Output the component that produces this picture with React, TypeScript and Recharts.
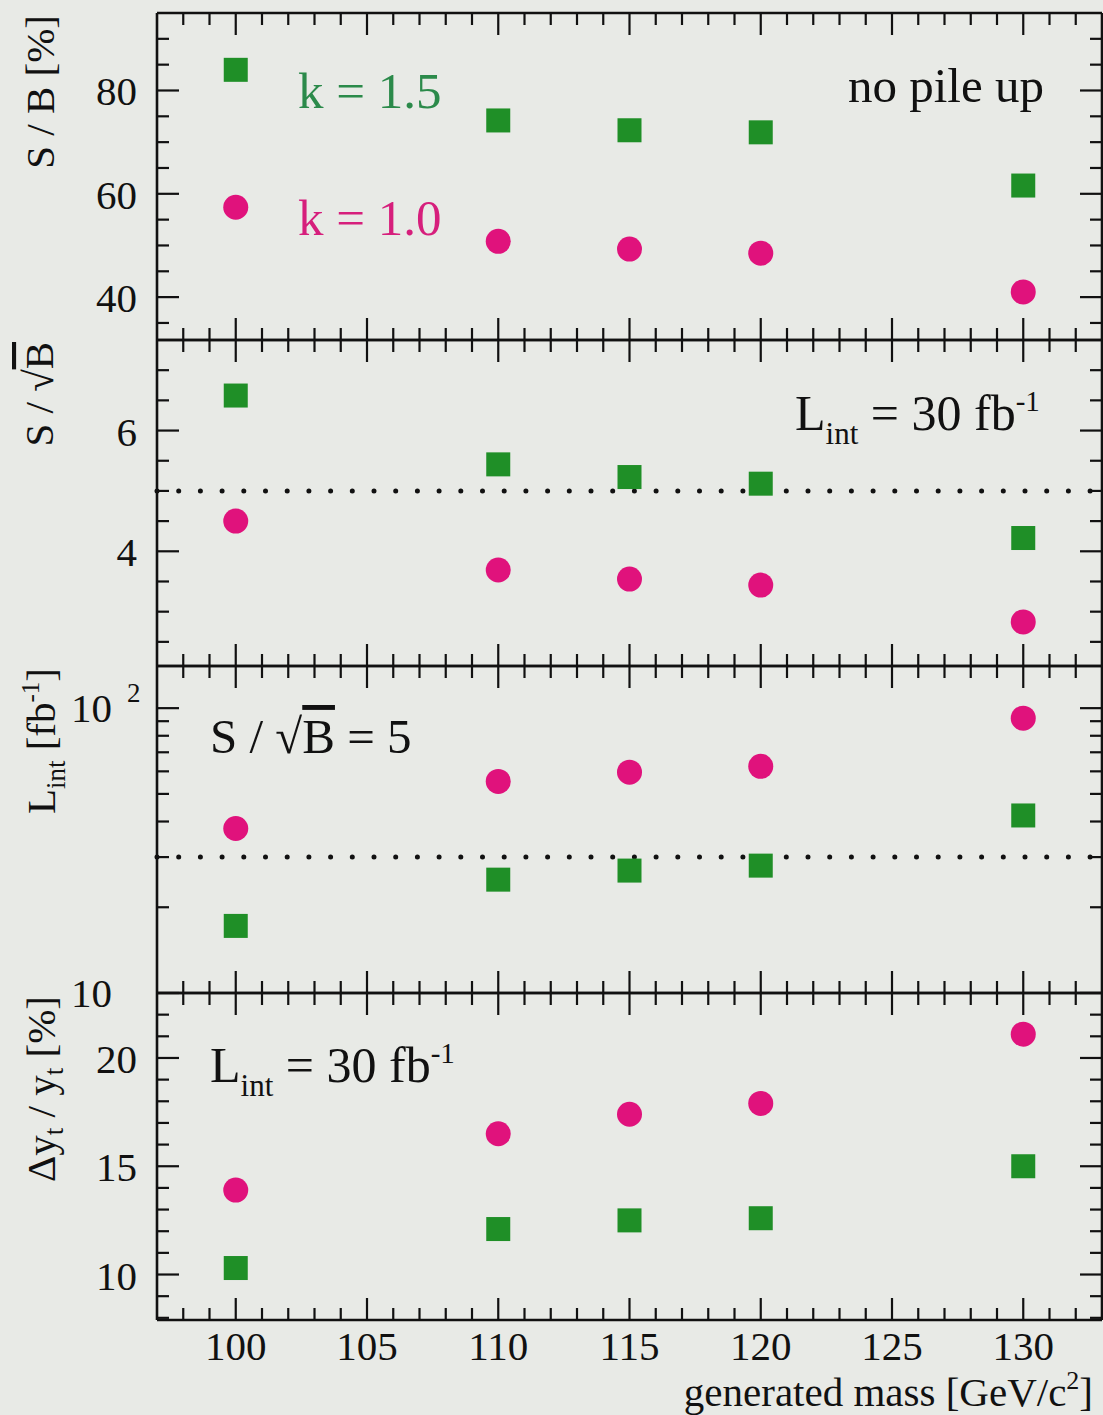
import React from 'react';
import { ScatterChart, Scatter, XAxis, YAxis, ReferenceLine } from 'recharts';

// Generated Higgs mass points [GeV/c^2]
const masses = [100, 110, 115, 120, 130];

// S / B [%]
const sbK15 = [84.0, 74.2, 72.3, 71.9, 61.6];
const sbK10 = [57.4, 50.8, 49.3, 48.5, 41.0];

// S / sqrt(B) at L_int = 30 fb^-1
const signifK15 = [6.58, 5.44, 5.23, 5.12, 4.22];
const signifK10 = [4.5, 3.69, 3.54, 3.44, 2.83];

// L_int needed for S / sqrt(B) = 5 [fb^-1]
const lumiK15 = [17.2, 25.0, 26.9, 28.0, 42.0];
const lumiK10 = [37.8, 55.3, 59.6, 62.5, 92.2];

// Delta y_t / y_t [%] at L_int = 30 fb^-1
const yukawaK15 = [10.3, 12.1, 12.5, 12.6, 15.0];
const yukawaK10 = [13.9, 16.5, 17.4, 17.9, 21.1];

// Reference levels drawn as dotted lines
const signifThreshold = 5;
const lumiReference = 30;

// Axis ticks
const massTicks = [98, 99, 100, 101, 102, 103, 104, 105, 106, 107, 108, 109, 110, 111, 112, 113, 114, 115, 116, 117, 118, 119, 120, 121, 122, 123, 124, 125, 126, 127, 128, 129, 130, 131, 132];
const massMajor = [100, 105, 110, 115, 120, 125, 130];
const sbTicks = [35, 40, 45, 50, 55, 60, 65, 70, 75, 80, 85, 90];
const sbMajor = [40, 60, 80];
const signifTicks = [2.5, 3, 3.5, 4, 4.5, 5, 5.5, 6, 6.5, 7];
const signifMajor = [4, 6];
const lumiTicks = [10, 20, 30, 40, 50, 60, 70, 80, 90, 100];
const lumiMajor = [10, 100];
const yukawaTicks = [8, 9, 10, 11, 12, 13, 14, 15, 16, 17, 18, 19, 20, 21, 22];
const yukawaMajor = [10, 15, 20];

const W = 1103;
const H = 1415;
const PLOT_LEFT = 157;
const FONT = "'Liberation Serif', 'Times New Roman', serif";
const INK = '#111111';
const GREEN = '#1f8f27';
const MAGENTA = '#e0127c';
const GREEN_TEXT = '#2b8a4a';
const MAGENTA_TEXT = '#d61f7c';
const MAJOR_LEN = 22;
const MINOR_LEN = 12;
const TICK_FONT = 41;

const toPoints = (ys: number[]) => masses.map((m, i) => ({ x: m, y: ys[i] }));

const SquareMark = (p: any) => {
  if (p.cx == null || p.cy == null) return null;
  return <rect x={p.cx - 12} y={p.cy - 12} width={24} height={24} fill={GREEN} />;
};
const DotMark = (p: any) => {
  if (p.cx == null || p.cy == null) return null;
  return <circle cx={p.cx} cy={p.cy} r={12.5} fill={MAGENTA} />;
};

type LabelFn = (v: number, x: number, y: number) => React.ReactNode;

const plainYLabel: LabelFn = (v, x, y) => (
  <text x={x - 20} y={y + 15} textAnchor="end" fontSize={TICK_FONT} fill={INK} fontFamily={FONT}>
    {v}
  </text>
);

const powerYLabel: LabelFn = (v, x, y) => (
  <g>
    <text x={x - 45} y={y + 14} textAnchor="end" fontSize={TICK_FONT} fill={INK} fontFamily={FONT}>
      10
    </text>
    {v === 100 ? (
      <text x={x - 30} y={y - 6} fontSize={27} fill={INK} fontFamily={FONT}>
        2
      </text>
    ) : null}
  </g>
);

const makeYTick = (side: 'left' | 'right', majors: number[], label: LabelFn) => (p: any) => {
  const v = p.payload.value;
  const major = majors.includes(v);
  const len = major ? MAJOR_LEN : MINOR_LEN;
  const dir = side === 'left' ? 1 : -1;
  return (
    <g>
      <line x1={p.x} x2={p.x + dir * len} y1={p.y} y2={p.y} stroke={INK} strokeWidth={2.2} />
      {side === 'left' && major ? label(v, p.x, p.y) : null}
    </g>
  );
};

const makeXTick = (side: 'top' | 'bottom', withLabels: boolean) => (p: any) => {
  const v = p.payload.value;
  const major = massMajor.includes(v);
  const len = major ? MAJOR_LEN : MINOR_LEN;
  const dir = side === 'bottom' ? -1 : 1;
  return (
    <g>
      <line x1={p.x} x2={p.x} y1={p.y} y2={p.y + dir * len} stroke={INK} strokeWidth={2.2} />
      {withLabels && major ? (
        <text x={p.x} y={p.y + 40} textAnchor="middle" fontSize={TICK_FONT} fill={INK} fontFamily={FONT}>
          {v}
        </text>
      ) : null}
    </g>
  );
};

type PanelProps = {
  top: number;
  bottom: number;
  domain: [number, number];
  log?: boolean;
  ticks: number[];
  majors: number[];
  label: LabelFn;
  squares: number[];
  dots: number[];
  refY?: number;
  xLabels?: boolean;
  children?: React.ReactNode;
};

const axisLine = { stroke: INK, strokeWidth: 2.6 };

function Panel(props: PanelProps) {
  const { top, bottom, domain, log, ticks, majors, label, squares, dots, refY, xLabels, children } = props;
  return (
    <div style={{ position: 'absolute', left: 0, top: 0, width: W, height: H }}>
      <ScatterChart width={W} height={H} margin={{ top: top - 1, bottom: H - bottom - 1, left: 0, right: 0 }}>
        <XAxis
          xAxisId="b"
          orientation="bottom"
          type="number"
          dataKey="x"
          domain={[97, 133]}
          allowDataOverflow
          ticks={massTicks}
          interval={0}
          height={1}
          tickSize={0}
          tickMargin={0}
          tickLine={false}
          axisLine={axisLine}
          tick={makeXTick('bottom', !!xLabels)}
        />
        <XAxis
          xAxisId="t"
          orientation="top"
          type="number"
          dataKey="x"
          domain={[97, 133]}
          allowDataOverflow
          ticks={massTicks}
          interval={0}
          height={1}
          tickSize={0}
          tickMargin={0}
          tickLine={false}
          axisLine={axisLine}
          tick={makeXTick('top', false)}
        />
        <YAxis
          yAxisId="l"
          orientation="left"
          type="number"
          dataKey="y"
          scale={log ? 'log' : 'linear'}
          domain={domain}
          allowDataOverflow
          ticks={ticks}
          interval={0}
          width={PLOT_LEFT}
          tickSize={0}
          tickMargin={0}
          tickLine={false}
          axisLine={axisLine}
          tick={makeYTick('left', majors, label)}
        />
        <YAxis
          yAxisId="r"
          orientation="right"
          type="number"
          dataKey="y"
          scale={log ? 'log' : 'linear'}
          domain={domain}
          allowDataOverflow
          ticks={ticks}
          interval={0}
          width={1}
          tickSize={0}
          tickMargin={0}
          tickLine={false}
          axisLine={axisLine}
          tick={makeYTick('right', majors, label)}
        />
        {refY != null ? (
          <ReferenceLine
            xAxisId="b"
            yAxisId="l"
            y={refY}
            stroke={INK}
            strokeWidth={5}
            strokeDasharray="0 21.7"
            strokeLinecap="round"
          />
        ) : null}
        <Scatter
          name="k = 1.5"
          data={toPoints(squares)}
          xAxisId="b"
          yAxisId="l"
          shape={SquareMark}
          isAnimationActive={false}
        />
        <Scatter
          name="k = 1.0"
          data={toPoints(dots)}
          xAxisId="b"
          yAxisId="l"
          shape={DotMark}
          isAnimationActive={false}
        />
        {children}
      </ScatterChart>
    </div>
  );
}

const T = { fill: INK, fontFamily: FONT } as const;

export default function App() {
  return (
    <div
      style={{
        position: 'absolute',
        left: 0,
        top: 0,
        width: W,
        height: H,
        background: '#e8eae6',
        fontFamily: FONT,
        overflow: 'hidden',
      }}
    >
      {/* S / B */}
      <Panel top={13} bottom={340} domain={[31.7, 95]} ticks={sbTicks} majors={sbMajor} label={plainYLabel} squares={sbK15} dots={sbK10}>
        <text transform="translate(54,15) rotate(-90)" textAnchor="end" fontSize={41} {...T}>
          S / B [%]
        </text>
        <text x={298} y={108} fontSize={51} fill={GREEN_TEXT} fontFamily={FONT}>
          k = 1.5
        </text>
        <text x={298} y={235} fontSize={51} fill={MAGENTA_TEXT} fontFamily={FONT}>
          k = 1.0
        </text>
        <text x={848} y={102} fontSize={49} {...T}>
          no pile up
        </text>
      </Panel>

      {/* S / sqrt(B) */}
      <Panel top={340} bottom={666} domain={[2.1, 7.5]} ticks={signifTicks} majors={signifMajor} label={plainYLabel} squares={signifK15} dots={signifK10} refY={signifThreshold}>
        <text transform="translate(53,342) rotate(-90)" textAnchor="end" fontSize={41} {...T}>
          S / √<tspan style={{ textDecoration: 'overline' }}>B</tspan>
        </text>
        <text x={795} y={430} fontSize={50} {...T}>
          L<tspan fontSize={31} dy={14}>int</tspan>
          <tspan dy={-14}> = 30 fb</tspan>
          <tspan fontSize={29} dy={-19}>-1</tspan>
        </text>
      </Panel>

      {/* L_int for 5 sigma */}
      <Panel top={666} bottom={993} domain={[10, 140.6]} log ticks={lumiTicks} majors={lumiMajor} label={powerYLabel} squares={lumiK15} dots={lumiK10} refY={lumiReference}>
        <text transform="translate(55,668) rotate(-90)" textAnchor="end" fontSize={41} {...T}>
          L<tspan fontSize={27} dy={10}>int</tspan>
          <tspan dy={-10}> [fb</tspan>
          <tspan fontSize={25} dy={-16}>-1</tspan>
          <tspan dy={16}>]</tspan>
        </text>
        <text x={210} y={753} fontSize={49} {...T}>
          S / √<tspan style={{ textDecoration: 'overline' }}>B</tspan> = 5
        </text>
      </Panel>

      {/* Delta y_t / y_t */}
      <Panel top={993} bottom={1320} domain={[7.9, 23]} ticks={yukawaTicks} majors={yukawaMajor} label={plainYLabel} squares={yukawaK15} dots={yukawaK10} xLabels>
        <text transform="translate(55,996) rotate(-90)" textAnchor="end" fontSize={41} {...T}>
          Δy<tspan fontSize={27} dy={8}>t</tspan>
          <tspan dy={-8}> / y</tspan>
          <tspan fontSize={27} dy={8}>t</tspan>
          <tspan dy={-8}> [%]</tspan>
        </text>
        <text x={210} y={1082} fontSize={50} {...T}>
          L<tspan fontSize={31} dy={14}>int</tspan>
          <tspan dy={-14}> = 30 fb</tspan>
          <tspan fontSize={29} dy={-19}>-1</tspan>
        </text>
        <text x={1093} y={1406} textAnchor="end" fontSize={41} {...T}>
          generated mass [GeV/c<tspan fontSize={26} dy={-17}>2</tspan>
          <tspan dy={17}>]</tspan>
        </text>
      </Panel>
    </div>
  );
}
